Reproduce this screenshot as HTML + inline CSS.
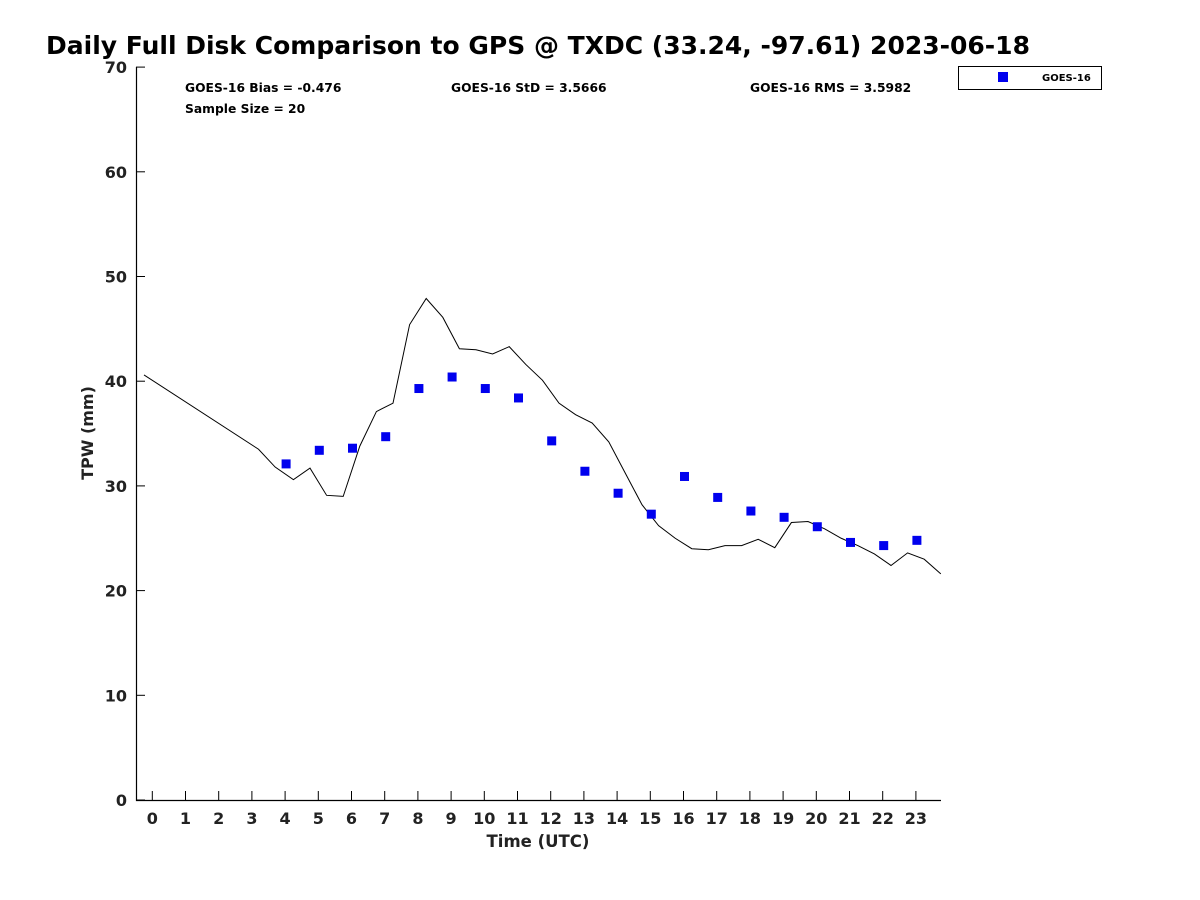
<!DOCTYPE html>
<html><head><meta charset="utf-8"><style>
body{margin:0;background:#fff;}
svg{display:block;font-family:"DejaVu Sans","Liberation Sans",sans-serif;}
</style></head><body>
<svg id="chart" width="1200" height="900">
<rect width="1200" height="900" fill="#fff"/>
<text x="46" y="54" font-size="25" font-weight="bold" fill="#000">Daily Full Disk Comparison to GPS @ TXDC (33.24, -97.61) 2023-06-18</text>
<g id="axes"></g>
<g id="series"></g>
<text x="185" y="92" font-size="12.3" font-weight="bold">GOES-16 Bias = -0.476</text>
<text x="185" y="113" font-size="12.3" font-weight="bold">Sample Size = 20</text>
<text x="451" y="92" font-size="12.3" font-weight="bold">GOES-16 StD = 3.5666</text>
<text x="750" y="92" font-size="12.3" font-weight="bold">GOES-16 RMS = 3.5982</text>
<g>
<rect x="958.5" y="66.5" width="143" height="23" fill="#fff" stroke="#000" stroke-width="1"/>
<rect x="998" y="72" width="10" height="10" fill="#0000ee"/>
<text x="1042" y="81" font-size="10" font-weight="bold">GOES-16</text>
</g>
<text x="538" y="847" font-size="16.5" font-weight="bold" text-anchor="middle" fill="#222">Time (UTC)</text>
<text transform="translate(93,433) rotate(-90)" font-size="16" font-weight="bold" text-anchor="middle" fill="#222">TPW (mm)</text>
</svg>
<script>
const gpsHours=[-0.25,3.2,3.7,4.25,4.75,5.25,5.75,6.25,6.75,7.25,7.75,8.25,8.75,9.25,9.75,10.25,10.75,11.25,11.75,12.25,12.75,13.25,13.75,14.25,14.75,15.25,15.75,16.25,16.75,17.25,17.75,18.25,18.75,19.25,19.75,20.25,20.75,21.25,21.75,22.25,22.75,23.25,23.75];
const gpsTpw=[40.6,33.5,31.8,30.6,31.7,29.1,29.0,33.8,37.1,37.9,45.4,47.9,46.1,43.1,43.0,42.6,43.3,41.6,40.1,37.9,36.8,36.0,34.2,31.2,28.2,26.2,25.0,24.0,23.9,24.3,24.3,24.9,24.1,26.5,26.6,25.9,25.0,24.3,23.5,22.4,23.6,23.0,21.6];
const goesHours=[4,5,6,7,8,9,10,11,12,13,14,15,16,17,18,19,20,21,22,23];
const goesTpw=[32.1,33.4,33.6,34.7,39.3,40.4,39.3,38.4,34.3,31.4,29.3,27.3,30.9,28.9,27.6,27.0,26.1,24.6,24.3,24.8];
const xTicks=[0,1,2,3,4,5,6,7,8,9,10,11,12,13,14,15,16,17,18,19,20,21,22,23];
const yTicks=[0,10,20,30,40,50,60,70];
const NS='http://www.w3.org/2000/svg';
const x=h=>152.3+(h)*33.2;
const y=v=>800-v*10.47;
function mk(t,a,p){const e=document.createElementNS(NS,t);for(const k in a)e.setAttribute(k,a[k]);p.appendChild(e);return e;}
const ax=document.getElementById('axes');
let l=mk('path',{d:'M136.5,67 V800.5 H941',stroke:'#000','stroke-width':1.2,fill:'none'},ax);


xTicks.forEach(h=>{
 const t=mk('line',{x1:x(h),x2:x(h),y1:800,y2:791,stroke:'#000'},ax);
 
 
 const s=mk('text',{x:x(h),y:824,'font-size':16,'font-weight':'bold','text-anchor':'middle',fill:'#222'},ax);
 s.textContent=h;
 
 
});
yTicks.forEach(v=>{
 const t=mk('line',{x1:136,x2:145,y1:y(v),y2:y(v),stroke:'#000'},ax);
 
 
 const s=mk('text',{x:127,y:y(v)+6,'font-size':16,'font-weight':'bold','text-anchor':'end',fill:'#222'},ax);
 s.textContent=v;
 
 
});
const sg=document.getElementById('series');
const line=mk('polyline',{points:gpsHours.map((h,i)=>x(h)+','+y(gpsTpw[i])).join(' '),fill:'none',stroke:'#000','stroke-width':1},sg);


goesHours.forEach((h,i)=>{
 const r=mk('rect',{x:x(h)-3.5,y:y(goesTpw[i])-4.5,width:9,height:9,fill:'#0000ee'},sg);
 
 
});
</script>
</body></html>
